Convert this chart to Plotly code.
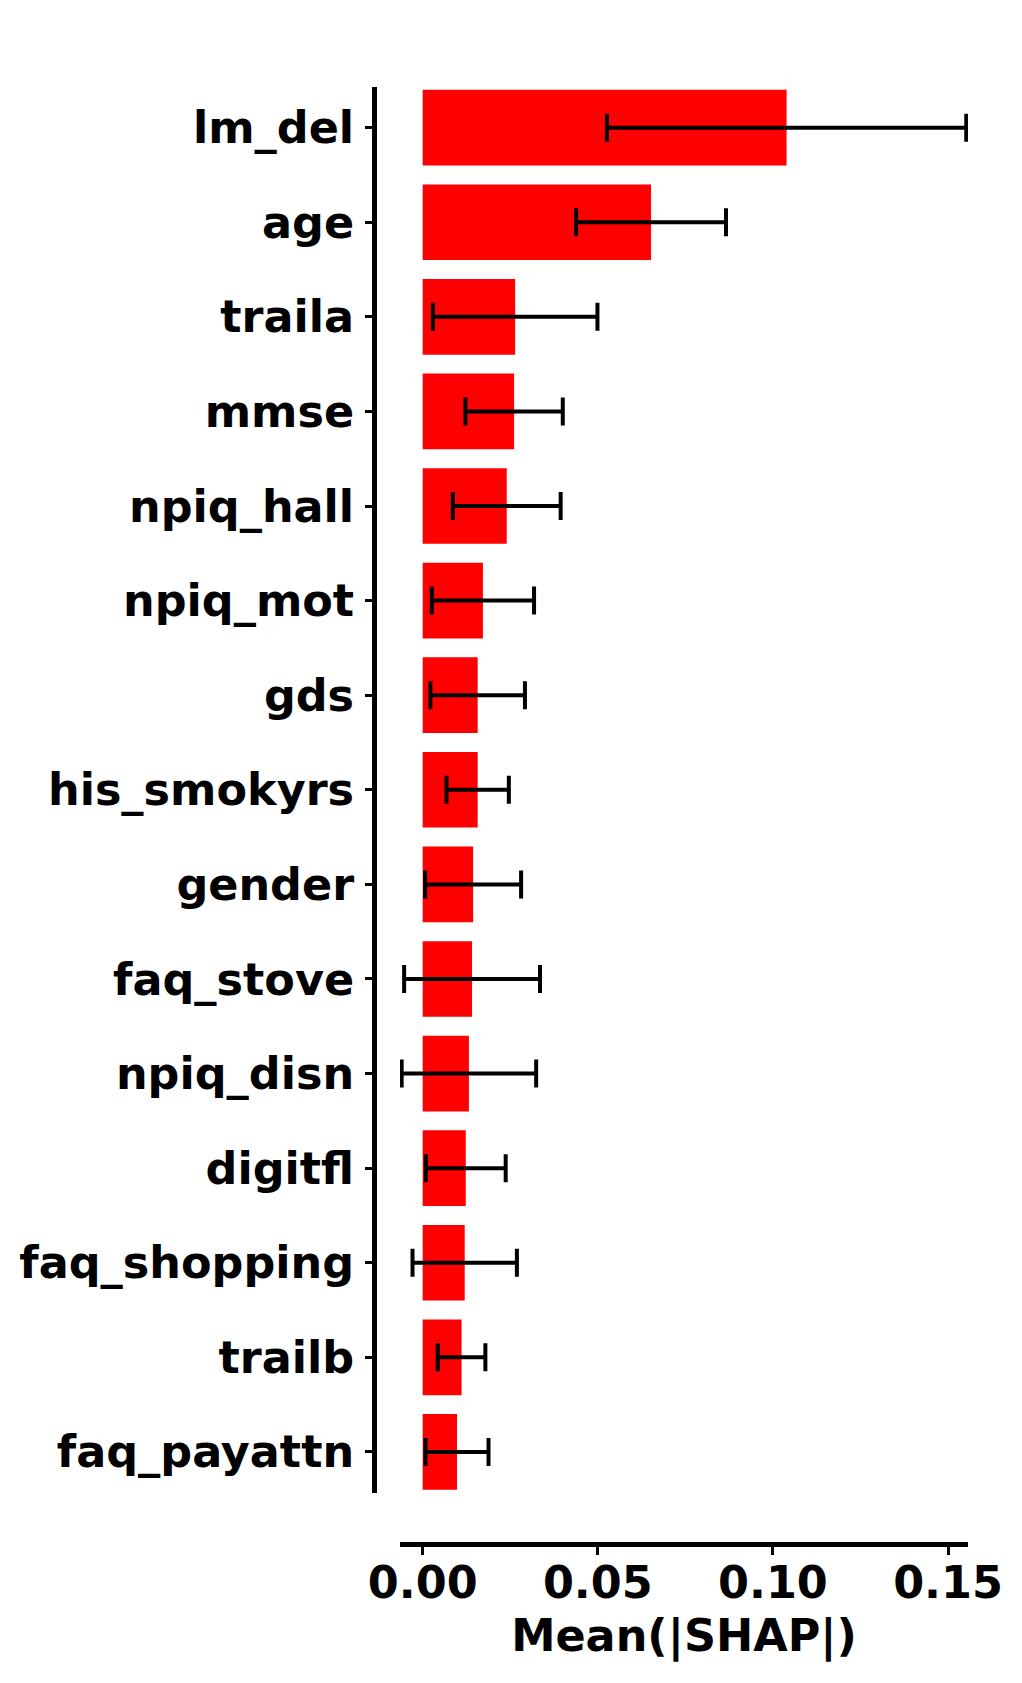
import plotly.graph_objects as go

features = ["lm_del", "age", "traila", "mmse", "npiq_hall", "npiq_mot", "gds",
            "his_smokyrs", "gender", "faq_stove", "npiq_disn", "digitfl",
            "faq_shopping", "trailb", "faq_payattn"]
mean_shap = [0.1039, 0.0652, 0.0264, 0.0261, 0.0240, 0.0172, 0.0157,
             0.0157, 0.0144, 0.0141, 0.0132, 0.0123, 0.0120, 0.0111, 0.0098]
shap_err = [0.0513, 0.0214, 0.0235, 0.0139, 0.0154, 0.0146, 0.0135,
            0.0089, 0.0137, 0.0194, 0.0192, 0.0114, 0.0149, 0.0068, 0.0090]
xtick_vals = [0.0, 0.05, 0.10, 0.15]
xtick_text = ["0.00", "0.05", "0.10", "0.15"]

# The page body has an 8px default margin; geometry below is in page coordinates.
W, H = 1014, 1675
yline_x = 366.0
plot_left, plot_right = 392.0, 960.3
plot_top, plot_bottom = 79.3, 1484.3
xline_y = 1535.7

ml = yline_x
mr = W - plot_right
mt = plot_top
mb = H - xline_y
pw = W - ml - mr
ph = H - mt - mb

font_bold = dict(family="DejaVu Sans", size=44.5, color="black", weight="bold")

fig = go.Figure(go.Bar(
    x=mean_shap, y=features, orientation="h",
    marker=dict(color="#ff0000", line=dict(width=0)),
    width=0.8,
    error_x=dict(type="data", array=shap_err, color="black", thickness=4, width=14),
    cliponaxis=False,
))

fig.update_layout(
    width=W, height=H, autosize=False,
    margin=dict(l=ml, r=mr, t=mt, b=mb, pad=0),
    plot_bgcolor="white", paper_bgcolor="white",
    showlegend=False,
    xaxis=dict(
        domain=[(plot_left - ml) / pw, 1],
        range=[-0.00648, 0.1557],
        anchor="free", position=0,
        showline=True, linewidth=4.5, linecolor="black",
        ticks="outside", ticklen=8, tickwidth=2.7, tickcolor="black",
        tickvals=xtick_vals, ticktext=xtick_text,
        tickfont=font_bold,
        ticklabelstandoff=-10,
        showgrid=False, zeroline=False,
        title=dict(text="Mean(|SHAP|)", font=font_bold, standoff=12),
        automargin=False,
    ),
    yaxis=dict(
        domain=[(xline_y - plot_bottom) / ph, 1],
        type="category",
        categoryorder="array", categoryarray=features,
        range=[14.43, -0.43],
        anchor="free", position=0,
        showline=True, linewidth=5, linecolor="black",
        ticks="outside", ticklen=7, tickwidth=2.7, tickcolor="black",
        tickfont=font_bold,
        ticklabelstandoff=2,
        showgrid=False, zeroline=False,
        automargin=False,
    ),
)

fig.write_html("out.html")
